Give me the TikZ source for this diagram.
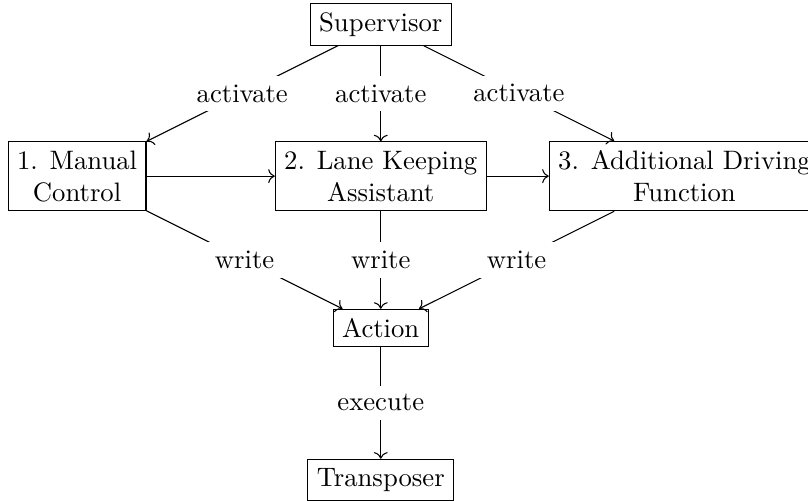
\documentclass[tikz,border=0pt]{standalone}
\usetikzlibrary{arrows.meta}
\begin{document}
\begin{tikzpicture}[
  box/.style={draw, align=center},
  flow/.style={->},
  lbl/.style={fill=white, midway}
]
\useasboundingbox (-142.7pt,-121.5pt) rectangle (160.1pt,66.0pt);
\node[box] (lane) at (0,0) {2. Lane Keeping\\Assistant};
\node[box] (sup) at (0,2) {Supervisor};
\node[box] (man) at (-4,0) {1. Manual\\Control};
\node[box] (add) at (4,0) {3. Additional Driving\\Function};
\node[box] (act) at (0,-2) {Action};
\node[box] (tra) at (0,-4) {Transposer};

\draw[flow] (sup) -- node[lbl] {activate} (man);
\draw[flow] (sup) -- node[lbl] {activate} (lane);
\draw[flow] (sup) -- node[lbl] {activate} (add);
\draw[flow] (man) -- (lane);
\draw[flow] (lane) -- (add);
\draw[flow] (man) -- node[lbl] {write} (act);
\draw[flow] (lane) -- node[lbl] {write} (act);
\draw[flow] (add) -- node[lbl] {write} (act);
\draw[flow] (act) -- node[lbl] {execute} (tra);
\end{tikzpicture}
\end{document}
